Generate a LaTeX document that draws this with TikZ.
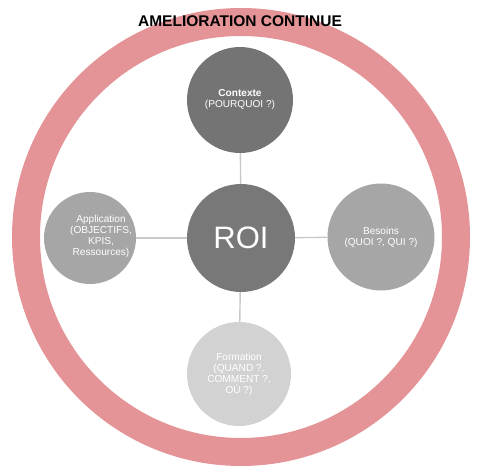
\documentclass[tikz,border=0pt]{standalone}
\usepackage{fontspec}
\setmainfont{Liberation Sans}
\definecolor{ringpink}{RGB}{228,147,150}
\definecolor{darkg}{RGB}{116,116,116}
\definecolor{roig}{RGB}{120,120,120}
\definecolor{midg}{RGB}{166,166,166}
\definecolor{lightg}{RGB}{210,210,210}
\definecolor{conng}{RGB}{200,200,200}
\begin{document}
\begin{tikzpicture}[x=1pt,y=-1pt,
  bubble/.style={circle, inner sep=0pt, text=white, align=center,
    font=\fontsize{10.1}{11}\selectfont},
  conn/.style={draw=conng, line width=1.4pt}]
\useasboundingbox (0,0) rectangle (490,476);
% ring
\draw[ringpink, line width=28pt] (241,237) circle[radius=215pt];
% title
\node[font=\fontsize{15.5}{16}\selectfont\bfseries, inner sep=0pt] (title) at (240,21) {AMELIORATION CONTINUE};
% nodes
\node[bubble, fill=roig, minimum size=108pt, font=\fontsize{31}{33}\selectfont] (roi) at (241,238) {ROI};
\node[bubble, fill=darkg, minimum size=106pt] (ctx) at (240,100) {\textbf{Contexte}\\(POURQUOI ?)};
\node[bubble, fill=midg, minimum size=107pt] (bes) at (381,237) {Besoins\\(QUOI ?, QUI ?)};
\node[bubble, fill=lightg, minimum size=104pt] (form) at (239,374) {Formation\\(QUAND ?,\\COMMENT ?,\\OÙ ?)};
\node[bubble, fill=midg, minimum size=92pt] (app) at (90,238) {};
\node[bubble] (apptext) at (101,236) {Application\\(OBJECTIFS,\\KPIS,\\Ressources)};
% connectors
\draw[conn] (ctx) -- (roi);
\draw[conn] (roi) -- (bes);
\draw[conn] (roi) -- (form);
\draw[conn] (app) -- (roi);
\end{tikzpicture}
\end{document}
